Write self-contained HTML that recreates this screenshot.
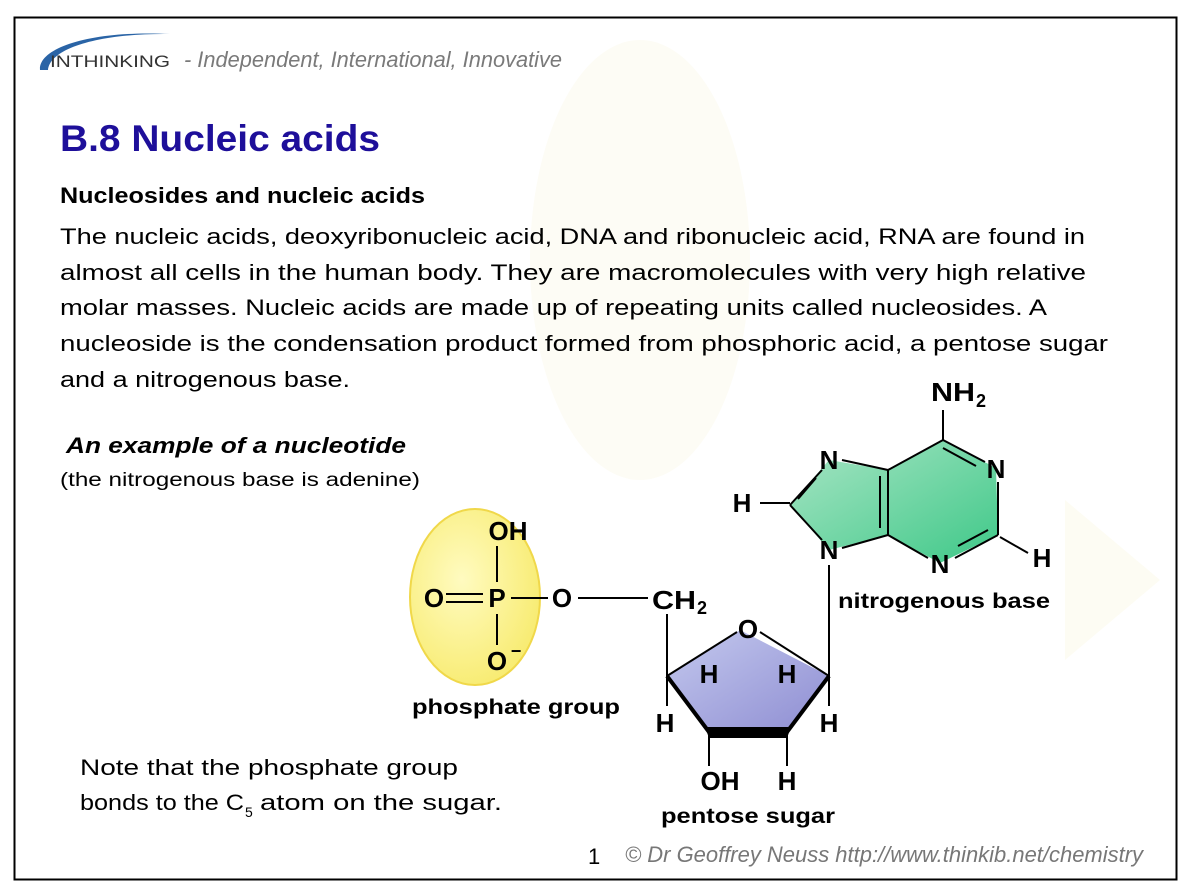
<!DOCTYPE html>
<html><head><meta charset="utf-8"><style>
html,body{margin:0;padding:0;background:#fff;}
svg{display:block;}
</style></head><body>
<svg width="1194" height="896" viewBox="0 0 1194 896" xmlns="http://www.w3.org/2000/svg">
<defs>
<radialGradient id="yg" cx="0.4" cy="0.4" r="0.7"><stop offset="0" stop-color="#fffbc0"/><stop offset="1" stop-color="#f7ea6a"/></radialGradient>
<linearGradient id="bg" x1="0" y1="0" x2="1" y2="1"><stop offset="0" stop-color="#c4c9ee"/><stop offset="1" stop-color="#8e8dd2"/></linearGradient>
<linearGradient id="gg" x1="0" y1="0" x2="1" y2="1"><stop offset="0" stop-color="#a9e5c5"/><stop offset="1" stop-color="#3ec888"/></linearGradient>
</defs>
<rect x="0" y="0" width="1194" height="896" fill="#fff"/>
<!-- watermark -->
<ellipse cx="640" cy="260" rx="110" ry="220" fill="#fdfcf5"/>
<polygon points="1065,500 1160,580 1065,660" fill="#fdfcf3"/>
<rect x="14.5" y="17.5" width="1162" height="862" fill="none" stroke="#000" stroke-width="2"/>
<!-- logo -->
<path d="M40,70 C38,48 90,30 170,34 C100,33 50,48 48,70 Z" fill="#2a64a6"/>
<text x="50" y="67" font-family="Liberation Sans, sans-serif" font-size="17" fill="#333" textLength="120" lengthAdjust="spacingAndGlyphs">INTHINKING</text>
<text x="184" y="67" font-family="Liberation Sans, sans-serif" font-size="22" font-style="italic" fill="#7a7a7a" textLength="378" lengthAdjust="spacingAndGlyphs">- Independent, International, Innovative</text>
<!-- title -->
<text x="60" y="151" font-family="Liberation Sans, sans-serif" font-size="37" font-weight="bold" fill="#1e0f9a" textLength="320" lengthAdjust="spacingAndGlyphs">B.8 Nucleic acids</text>
<g font-family="Liberation Sans, sans-serif" font-size="22" fill="#000">
<text x="60" y="203" font-weight="bold" textLength="365" lengthAdjust="spacingAndGlyphs">Nucleosides and nucleic acids</text>
<text x="60" y="244" textLength="1025" lengthAdjust="spacingAndGlyphs">The nucleic acids, deoxyribonucleic acid, DNA and ribonucleic acid, RNA are found in</text>
<text x="60" y="280" textLength="1026" lengthAdjust="spacingAndGlyphs">almost all cells in the human body. They are  macromolecules with very high relative</text>
<text x="60" y="315" textLength="987" lengthAdjust="spacingAndGlyphs">molar masses. Nucleic acids are made up of repeating units called nucleosides.  A</text>
<text x="60" y="351" textLength="1048" lengthAdjust="spacingAndGlyphs">nucleoside is the condensation product formed from phosphoric acid, a pentose sugar</text>
<text x="60" y="387" textLength="290" lengthAdjust="spacingAndGlyphs">and a nitrogenous base.</text>
<text x="66" y="453" font-weight="bold" font-style="italic" textLength="340" lengthAdjust="spacingAndGlyphs">An example of a nucleotide</text>
<text x="60" y="486" font-size="19" textLength="360" lengthAdjust="spacingAndGlyphs">(the nitrogenous base is adenine)</text>
<text x="80" y="775" textLength="378" lengthAdjust="spacingAndGlyphs">Note that the phosphate group</text>
<text x="80" y="810" textLength="164" lengthAdjust="spacingAndGlyphs">bonds to the C</text>
<text x="245" y="817" font-size="14">5</text>
<text x="260" y="810" textLength="242" lengthAdjust="spacingAndGlyphs">atom on the sugar.</text>
<text x="588" y="864">1</text>
</g>
<text x="625" y="862" font-family="Liberation Sans, sans-serif" font-size="22" font-style="italic" fill="#777" textLength="518" lengthAdjust="spacingAndGlyphs">© Dr Geoffrey Neuss http://www.thinkib.net/chemistry</text>
<!-- phosphate -->
<ellipse cx="475" cy="597" rx="65" ry="88" fill="url(#yg)" stroke="#f0d84a" stroke-width="2"/>
<g stroke="#000" stroke-width="2" fill="none">
<line x1="497" y1="546" x2="497" y2="582"/>
<line x1="497" y1="614" x2="497" y2="645"/>
<line x1="446" y1="594" x2="483" y2="594"/><line x1="446" y1="602" x2="483" y2="602"/>
<line x1="511" y1="598" x2="548" y2="598"/>
<line x1="578" y1="598" x2="648" y2="598"/>
<line x1="667" y1="614" x2="667" y2="706"/>
<line x1="829" y1="565" x2="829" y2="706"/>
<line x1="709" y1="690" x2="709" y2="766"/>
<line x1="787" y1="690" x2="787" y2="766"/>
<line x1="943" y1="410" x2="943" y2="440"/>
<line x1="760" y1="503" x2="790" y2="503"/>
<line x1="1000" y1="537" x2="1028" y2="553"/>
</g>
<polygon points="667,676 740,630 829,676 787,732 709,732" fill="url(#bg)"/>
<g stroke="#000" stroke-width="2" fill="none">
<polyline points="667,676 737,632"/><polyline points="760,632 829,676"/>
<line x1="667" y1="676" x2="709" y2="732" stroke-width="4"/>
<line x1="829" y1="676" x2="787" y2="732" stroke-width="4"/>
</g>
<polygon points="705,727 791,727 787,738 709,738" fill="#000"/>
<polygon points="943,440 996,468 998,535 940,563 888,535 888,470 829,460 790,505 829,550 888,535 888,470" fill="url(#gg)"/>
<g stroke="#000" stroke-width="2" fill="none">
<line x1="943" y1="440" x2="985" y2="462"/>
<line x1="943" y1="448" x2="976" y2="466"/>
<line x1="998" y1="482" x2="998" y2="535"/>
<line x1="998" y1="535" x2="955" y2="558"/>
<line x1="988" y1="530" x2="958" y2="546"/>
<line x1="928" y1="558" x2="888" y2="535"/>
<line x1="888" y1="470" x2="888" y2="535"/>
<line x1="880" y1="476" x2="880" y2="528"/>
<line x1="888" y1="470" x2="943" y2="440"/>
<line x1="888" y1="470" x2="842" y2="460"/>
<line x1="888" y1="535" x2="842" y2="548"/>
<line x1="822" y1="470" x2="790" y2="505"/>
<line x1="816" y1="478" x2="798" y2="499"/>
<line x1="790" y1="505" x2="822" y2="540"/>
</g>
<g font-family="Liberation Sans, sans-serif" font-weight="bold" font-size="26" fill="#000" text-anchor="middle">
<text x="508" y="540">OH</text>
<text x="434" y="607">O</text>
<text x="497" y="607">P</text>
<text x="562" y="607">O</text>
<text x="497" y="670">O</text><text x="516" y="657" font-size="18">−</text>
<text x="748" y="638">O</text>
<text x="709" y="683">H</text>
<text x="787" y="683">H</text>
<text x="665" y="732">H</text>
<text x="829" y="732">H</text>
<text x="720" y="790">OH</text>
<text x="787" y="790">H</text>
<text x="829" y="469">N</text>
<text x="996" y="478">N</text>
<text x="829" y="559">N</text>
<text x="940" y="573">N</text>
<text x="742" y="512">H</text>
<text x="1042" y="567">H</text>
<text x="516" y="714" font-size="21" textLength="208" lengthAdjust="spacingAndGlyphs">phosphate group</text>
<text x="748" y="823" font-size="21" textLength="174" lengthAdjust="spacingAndGlyphs">pentose sugar</text>
<text x="944" y="608" font-size="21" textLength="212" lengthAdjust="spacingAndGlyphs">nitrogenous base</text>
</g>
<g font-family="Liberation Sans, sans-serif" font-weight="bold" fill="#000">
<text x="652" y="609" font-size="26" textLength="44" lengthAdjust="spacingAndGlyphs">CH</text>
<text x="697" y="614" font-size="18">2</text>
<text x="931" y="401" font-size="26" textLength="44" lengthAdjust="spacingAndGlyphs">NH</text>
<text x="976" y="407" font-size="18">2</text>
</g>
</svg>
</body></html>
